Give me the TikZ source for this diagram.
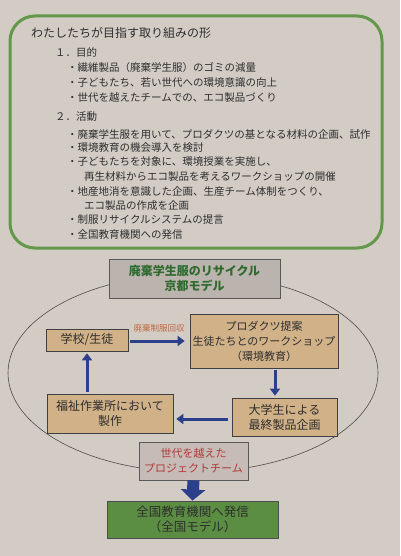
\documentclass[tikz,border=0pt]{standalone}
\usepackage{fontspec}
\setmainfont{Noto Sans CJK JP}
\usetikzlibrary{arrows.meta,positioning}
\definecolor{bgc}{HTML}{D2CCC5}
\definecolor{gborder}{HTML}{63984A}
\definecolor{tanc}{HTML}{D0B188}
\definecolor{greybox}{HTML}{BBB3AD}
\definecolor{teambox}{HTML}{C6BBB6}
\definecolor{greenbox}{HTML}{5B8E43}
\definecolor{arrowc}{HTML}{2C3F8A}
\definecolor{txt}{HTML}{2E2E2E}
\definecolor{titlegreen}{HTML}{2F6B2F}
\definecolor{teamred}{HTML}{B03A3A}
\definecolor{lblc}{HTML}{C0683F}
\tikzset{
  line/.style={anchor=west,inner sep=0pt,font=\fontsize{10.5}{12}\selectfont,text=txt},
  head/.style={anchor=west,inner sep=0pt,font=\fontsize{12}{14}\selectfont,text=txt},
  tanbox/.style={draw=black!75,line width=0.7pt,fill=tanc,align=center,inner sep=1pt,text=txt},
  flow/.style={draw=arrowc,line width=3pt,-{Triangle[length=7pt,width=10pt]}},
}
\begin{document}
\begin{tikzpicture}[x=1pt,y=-1pt]
\fill[bgc] (0,0) rectangle (400,556);
\useasboundingbox (0,0) rectangle (400,556);
% top panel
\draw[gborder,line width=3pt,rounded corners=25pt] (10,16) rectangle (382,248);
\node[head] (t0) at (31,33) {わたしたちが目指す取り組みの形};
\node[line] (t1) at (55,52) {１．目的};
\node[line] (t2) at (67,68) {・繊維製品（廃棄学生服）のゴミの減量};
\node[line] (t3) at (67,83) {・子どもたち、若い世代への環境意識の向上};
\node[line] (t4) at (67,98) {・世代を越えたチームでの、エコ製品づくり};
\node[line] (t5) at (55,117) {２．活動};
\node[line] (t6) at (67,135) {・廃棄学生服を用いて、プロダクツの基となる材料の企画、試作};
\node[line] (t7) at (67,148) {・環境教育の機会導入を検討};
\node[line] (t8) at (67,162) {・子どもたちを対象に、環境授業を実施し、};
\node[line] (t9) at (84,177) {再生材料からエコ製品を考えるワークショップの開催};
\node[line] (t10) at (67,192) {・地産地消を意識した企画、生産チーム体制をつくり、};
\node[line] (t11) at (84,206) {エコ製品の作成を企画};
\node[line] (t12) at (67,220) {・制服リサイクルシステムの提言};
\node[line] (t13) at (67,235) {・全国教育機関への発信};
% ellipse
\draw[black!70,line width=0.6pt] (193,373) ellipse [x radius=185, y radius=99];
% boxes
\node[draw=black!65,line width=0.8pt,fill=greybox,minimum width=171pt,minimum height=39pt,align=center,
  font=\bfseries\fontsize{12}{15}\selectfont,text=titlegreen] (title) at (194.5,278.5) {廃棄学生服のリサイクル\\京都モデル};
\node[tanbox,minimum width=82pt,minimum height=22pt,font=\fontsize{12}{14}\selectfont] (school) at (87,340) {学校/生徒};
\node[tanbox,minimum width=148pt,minimum height=54pt,font=\fontsize{11}{15}\selectfont] (prod) at (264,341) {プロダクツ提案\\生徒たちとのワークショップ\\（環境教育）};
\node[tanbox,minimum width=126pt,minimum height=39pt,font=\fontsize{12}{15}\selectfont] (fuku) at (110,413.5) {福祉作業所において\\製作};
\node[tanbox,minimum width=105pt,minimum height=38pt,font=\fontsize{12}{15}\selectfont] (univ) at (284.5,417) {大学生による\\最終製品企画};
\node[draw=black!65,line width=0.8pt,fill=teambox,minimum width=109pt,minimum height=38pt,align=center,
  font=\fontsize{11}{15}\selectfont,text=teamred] (team) at (193.5,461) {世代を越えた\\プロジェクトチーム};
\node[draw=black!70,line width=0.8pt,fill=greenbox,minimum width=171pt,minimum height=37pt,align=center,
  font=\fontsize{12.5}{15}\selectfont,text=txt] (zen) at (192.5,519.5) {全国教育機関へ発信\\（全国モデル）};
% arrows
\draw[flow,shorten <=2pt,shorten >=5pt] ([yshift=-1pt]school.east) -- ([yshift=-1pt]school.east -| prod.west)
  node[midway,above=4pt,font=\fontsize{8.5}{10}\selectfont,text=lblc] (lbl) {廃棄制服回収};
\draw[flow,shorten <=2pt,shorten >=2pt] ([xshift=11pt]prod.south) -- ([xshift=11pt]prod.south |- univ.north);
\draw[flow,shorten <=4pt,shorten >=3pt] ([yshift=-2pt]univ.west) -- ([yshift=-2pt]univ.west -| fuku.east);
\draw[flow,shorten <=2pt,shorten >=2pt] (school.south |- fuku.north) -- (school.south);
\draw[arrowc,line width=12pt,-{Triangle[length=11pt,width=24pt]}] (team.south) -- (zen.north);
\end{tikzpicture}
\end{document}
